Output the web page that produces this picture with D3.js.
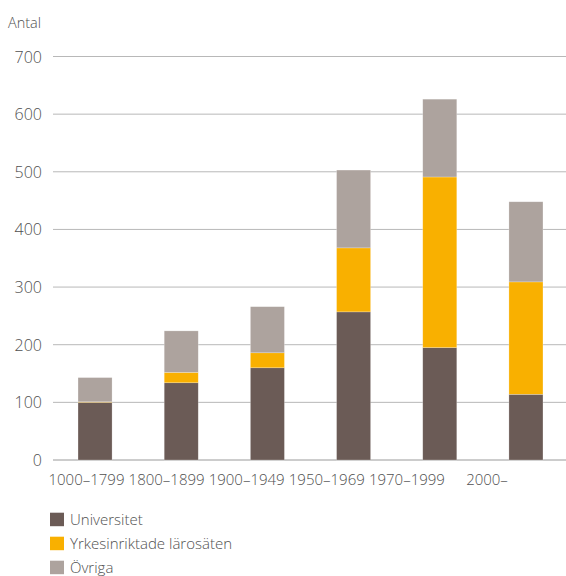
<!DOCTYPE html>
<html><head><meta charset="utf-8">
<script src="https://cdn.jsdelivr.net/npm/d3@7/dist/d3.min.js"></script>
<style>body{margin:0;background:#fff;} text{font-family:"Open Sans",sans-serif;font-weight:300;fill:#505050;}</style>
</head><body>
<svg id="c" width="566" height="576"></svg>
<script>
const categories = ["1000–1799","1800–1899","1900–1949","1950–1969","1970–1999","2000–"];
const universitet = [100,134,160,257,195,114];
const yrkes = [1,18,26,111,296,195];
const ovriga = [42,72,80,135,135,139];
const seriesNames = ["Universitet","Yrkesinriktade lärosäten","Övriga"];
const colors = ["#6b5b56","#f9b000","#ada39e"];
const yTicks = [0,100,200,300,400,500,600,700];

const data = categories.map((c,i)=>({cat:c, u:universitet[i], y:yrkes[i], o:ovriga[i]}));
const svg = d3.select("#c");
const x = d3.scaleBand().domain(categories).range([52,569]).paddingInner(0.605).paddingOuter(0.302);
const xl = d3.scalePoint().domain(categories).range([86.5,487]);
const y = d3.scaleLinear().domain([0,700]).range([460,56.5]);

svg.append("g").selectAll("line").data(yTicks).join("line")
  .attr("x1",53).attr("x2",566).attr("y1",d=>y(d)).attr("y2",d=>y(d))
  .attr("stroke",d=>d===0?"#9a9a9a":"#b8b8b8").attr("stroke-width",1);
svg.append("g").selectAll("text").data(yTicks).join("text")
  .attr("x",42).attr("y",d=>y(d)+6).attr("text-anchor","end")
  .attr("font-size",16).text(d=>d);
svg.append("text").attr("x",8).attr("y",28).attr("font-size",14.5).text("Antal");

const stack = d3.stack().keys(["u","y","o"])(data);
svg.append("g").selectAll("g").data(stack).join("g").attr("fill",(d,i)=>colors[i])
  .selectAll("rect").data(d=>d).join("rect")
  .attr("x",d=>x(d.data.cat)).attr("width",x.bandwidth())
  .attr("y",d=>y(d[1])).attr("height",d=>y(d[0])-y(d[1]))
  .attr("stroke","#ffffff").attr("stroke-opacity",0.4).attr("stroke-width",0.6);

svg.append("g").selectAll("text").data(categories).join("text")
  .attr("x",d=>xl(d)).attr("y",485).attr("text-anchor","middle").attr("font-size",15).text(d=>d);

const lg = svg.append("g").selectAll("g").data(seriesNames).join("g")
  .attr("transform",(d,i)=>`translate(50,${512.7+i*24})`);
lg.append("rect").attr("width",14).attr("height",13.5).attr("fill",(d,i)=>colors[i]);
lg.append("text").attr("x",20).attr("y",12).attr("font-size",15).text(d=>d);
</script>
</body></html>
